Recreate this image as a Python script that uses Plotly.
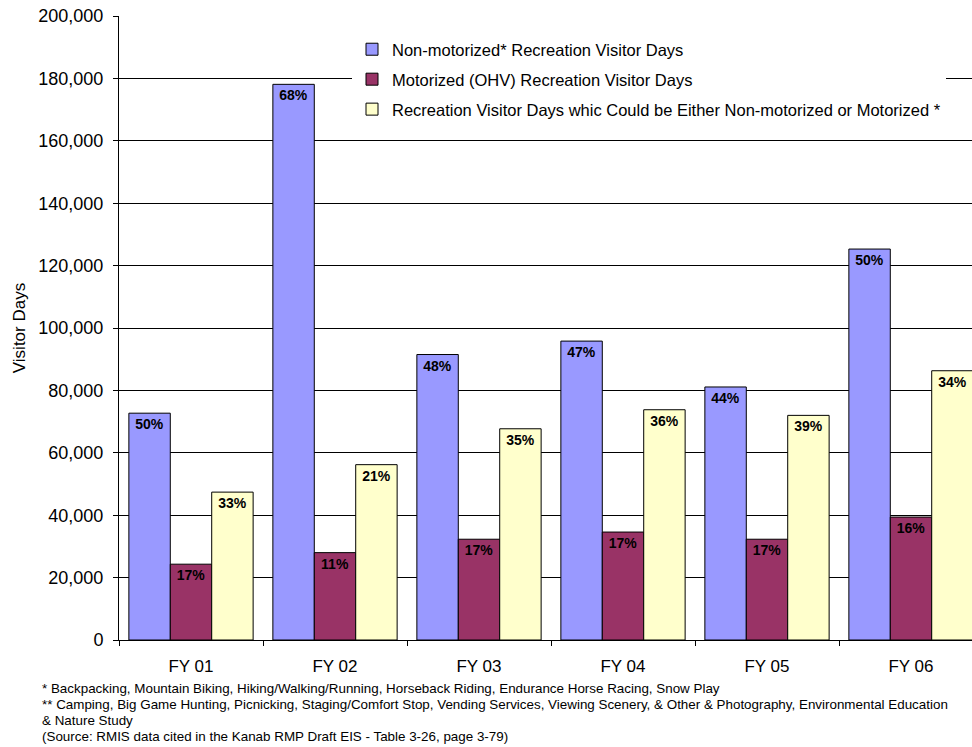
import plotly.graph_objects as go

# Fiscal years on the category axis
years = ["FY 01", "FY 02", "FY 03", "FY 04", "FY 05", "FY 06"]

# Recreation visitor days per fiscal year
non_motorized = [72700, 178100, 91500, 95800, 81100, 125300]
motorized = [24300, 28000, 32300, 34600, 32300, 39400]
either = [47400, 56200, 67700, 73800, 72000, 86300]

# Share of the yearly total shown on each bar
non_motorized_pct = ["50%", "68%", "48%", "47%", "44%", "50%"]
motorized_pct = ["17%", "11%", "17%", "17%", "17%", "16%"]
either_pct = ["33%", "21%", "35%", "36%", "39%", "34%"]

series_names = [
    "Non-motorized* Recreation Visitor Days",
    "Motorized (OHV) Recreation Visitor Days",
    "Recreation Visitor Days whic Could be Either Non-motorized or Motorized *",
]
series_colors = ["#9999FF", "#993366", "#FFFFCC"]

y_tick_values = list(range(0, 200001, 20000))

footnotes = [
    "* Backpacking, Mountain Biking, Hiking/Walking/Running, Horseback Riding, Endurance Horse Racing, Snow Play",
    "** Camping, Big Game Hunting, Picnicking, Staging/Comfort Stop, Vending Services, Viewing Scenery, & Other & Photography, Environmental Education",
    "& Nature Study",
    "(Source: RMIS data cited in the Kanab RMP Draft EIS - Table 3-26, page 3-79)",
]

FONT = "Liberation Sans, Arial, sans-serif"

fig = go.Figure()
for i, (name, values, labels, color) in enumerate(zip(
        series_names,
        [non_motorized, motorized, either],
        [non_motorized_pct, motorized_pct, either_pct],
        series_colors)):
    fig.add_trace(go.Bar(
        x=years,
        y=values,
        name=name,
        legendgroup=f"g{i}",
        marker=dict(color=color, line=dict(color="#000000", width=1)),
        text=labels,
        textposition="inside",
        insidetextanchor="end",
        textangle=0,
        textfont=dict(family=FONT, size=14, color="#000000", weight="bold"),
        hoverinfo="x+y+name",
    ))

# Plot area geometry (pixels)
W, H = 972, 747
ML, MT, MB = 119, 16, 107
plot_w = W - ML
plot_h = H - MT - MB
cat_px = 144.0  # width of one category slot


def px_x(x):
    return (x - ML) / plot_w


def px_y(y):
    return (H - MB - y) / plot_h


annotations = []
for k, line in enumerate(footnotes):
    annotations.append(dict(
        text=line, xref="paper", yref="paper",
        x=px_x(40), y=px_y(688 + 16.3 * k),
        xanchor="left", yanchor="middle", showarrow=False,
        font=dict(family=FONT, size=13.4, color="#000000"),
    ))

fig.update_layout(
    width=W, height=H,
    margin=dict(l=ML, r=0, t=MT, b=MB, pad=0),
    paper_bgcolor="#FFFFFF",
    plot_bgcolor="#FFFFFF",
    barmode="group",
    bargap=0.137,
    bargroupgap=0,
    font=dict(family=FONT, color="#000000"),
    showlegend=True,
    legend=dict(
        x=px_x(352), y=px_y(32), xanchor="left", yanchor="top",
        bgcolor="#FFFFFF", borderwidth=0,
        font=dict(family=FONT, size=16.5, color="#000000"),
        traceorder="grouped", tracegroupgap=5.5,
        itemclick=False, itemdoubleclick=False,
    ),
    xaxis=dict(
        type="category",
        range=[-0.5, -0.5 + plot_w / cat_px],
        showgrid=False,
        showline=True, linecolor="#000000", linewidth=1,
        ticks="outside", tickson="boundaries", ticklen=5,
        tickcolor="#000000", tickwidth=1,
        tickfont=dict(family=FONT, size=17, color="#000000"),
        ticklabelstandoff=11,
        fixedrange=True,
    ),
    yaxis=dict(
        range=[0, 200000],
        tickvals=y_tick_values,
        tickformat=",d",
        showgrid=True, gridcolor="#000000", gridwidth=1,
        zeroline=False,
        showline=True, linecolor="#000000", linewidth=1,
        ticks="outside", ticklen=5, tickcolor="#000000", tickwidth=1,
        tickfont=dict(family=FONT, size=18, color="#000000"),
        ticklabelstandoff=6,
        title=dict(text="Visitor Days", font=dict(family=FONT, size=17, color="#000000"), standoff=8),
        fixedrange=True,
    ),
    annotations=annotations,
)

fig.write_html("out.html", config={"displayModeBar": False})
